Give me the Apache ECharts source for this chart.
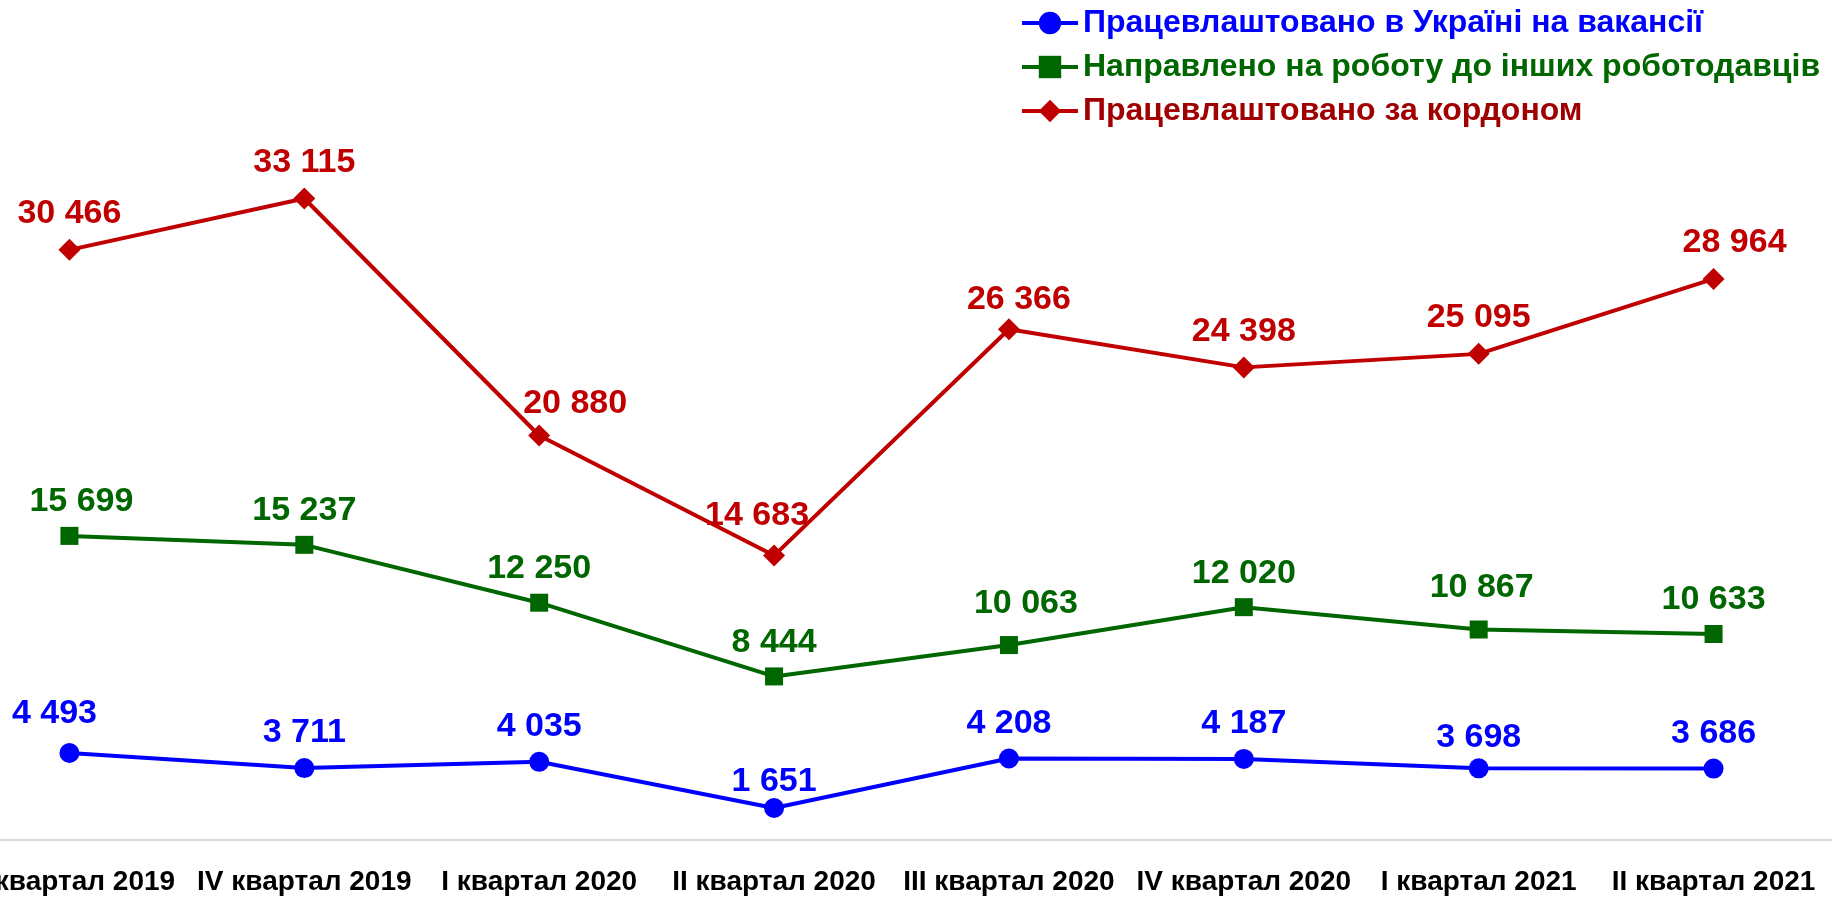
<!DOCTYPE html>
<html>
<head>
<meta charset="utf-8">
<script src="https://cdn.jsdelivr.net/npm/echarts@6/dist/echarts.min.js"></script>
<style>
  html, body { margin: 0; padding: 0; background: #fff; }
  #chart { width: 1833px; height: 899px; }
</style>
</head>
<body>
<div id="chart"></div>
<script>
// квартали
const quarters = ['III квартал 2019', 'IV квартал 2019', 'I квартал 2020', 'II квартал 2020',
  'III квартал 2020', 'IV квартал 2020', 'I квартал 2021', 'II квартал 2021'];
const employedUkraine = [4493, 3711, 4035, 1651, 4208, 4187, 3698, 3686];
const sentToOthers = [15699, 15237, 12250, 8444, 10063, 12020, 10867, 10633];
const employedAbroad = [30466, 33115, 20880, 14683, 26366, 24398, 25095, 28964];

const names = ['Працевлаштовано в Україні на вакансії',
  'Направлено на роботу до інших роботодавців',
  'Працевлаштовано за кордоном'];

const FONT = '"Liberation Sans", Arial, sans-serif';
const fmt = p => String(p.value).replace(/\B(?=(\d{3})+(?!\d))/g, ' ');

// підписи, які в оригіналі трохи зсунуті
function lineSeries(name, data, color, symbol, size, shifts) {
  return {
    name: name,
    type: 'line',
    data: data.map((v, i) => shifts[i] ? { value: v, label: { offset: shifts[i] } } : v),
    symbol: symbol,
    symbolSize: size,
    lineStyle: { color: color, width: 4 },
    itemStyle: { color: color },
    label: {
      show: true,
      position: 'top',
      distance: 8,
      color: color,
      fontFamily: FONT,
      fontWeight: 'bold',
      fontSize: 34,
      formatter: fmt
    }
  };
}

let chart = echarts.init(document.getElementById('chart'));
chart.setOption({
  animation: false,
  backgroundColor: '#fff',
  grid: { left: -48, right: 2, top: 162, bottom: 59, containLabel: false, outerBoundsMode: 'none' },
  legend: {
    orient: 'vertical',
    left: 1015,
    top: 2,
    itemWidth: 56,
    itemHeight: 28,
    itemGap: 12,
    lineStyle: { width: 4 },
    textStyle: { fontFamily: FONT, fontWeight: 'bold', fontSize: 32, lineHeight: 32 },
    data: [
      { name: names[0], textStyle: { color: '#0000ff' } },
      { name: names[1], textStyle: { color: '#006600' } },
      { name: names[2], textStyle: { color: '#a00000' } }
    ]
  },
  xAxis: {
    type: 'category',
    data: quarters,
    axisTick: { show: false },
    axisLine: { lineStyle: { color: '#d9d9d9', width: 2 } },
    axisLabel: {
      color: '#000',
      fontFamily: FONT,
      fontWeight: 'bold',
      fontSize: 28,
      margin: 28,
      interval: 0
    }
  },
  yAxis: { type: 'value', min: 0, max: 35000, show: false, splitLine: { show: false } },
  series: [
    lineSeries(names[0], employedUkraine, '#0000ff', 'circle', 20,
      { 0: [-15, -4], 3: [0, 9], 6: [0, 4] }),
    lineSeries(names[1], sentToOthers, '#006600', 'rect', 18,
      { 0: [12, 0], 4: [17, -7], 6: [3, -8] }),
    lineSeries(names[2], employedAbroad, '#c00000', 'diamond', 22,
      { 2: [36, 4], 3: [-17, -4], 4: [10, 6], 7: [21, 0] })
  ]
});
window.addEventListener('resize', function () { chart.resize(); });
</script>
</body>
</html>
